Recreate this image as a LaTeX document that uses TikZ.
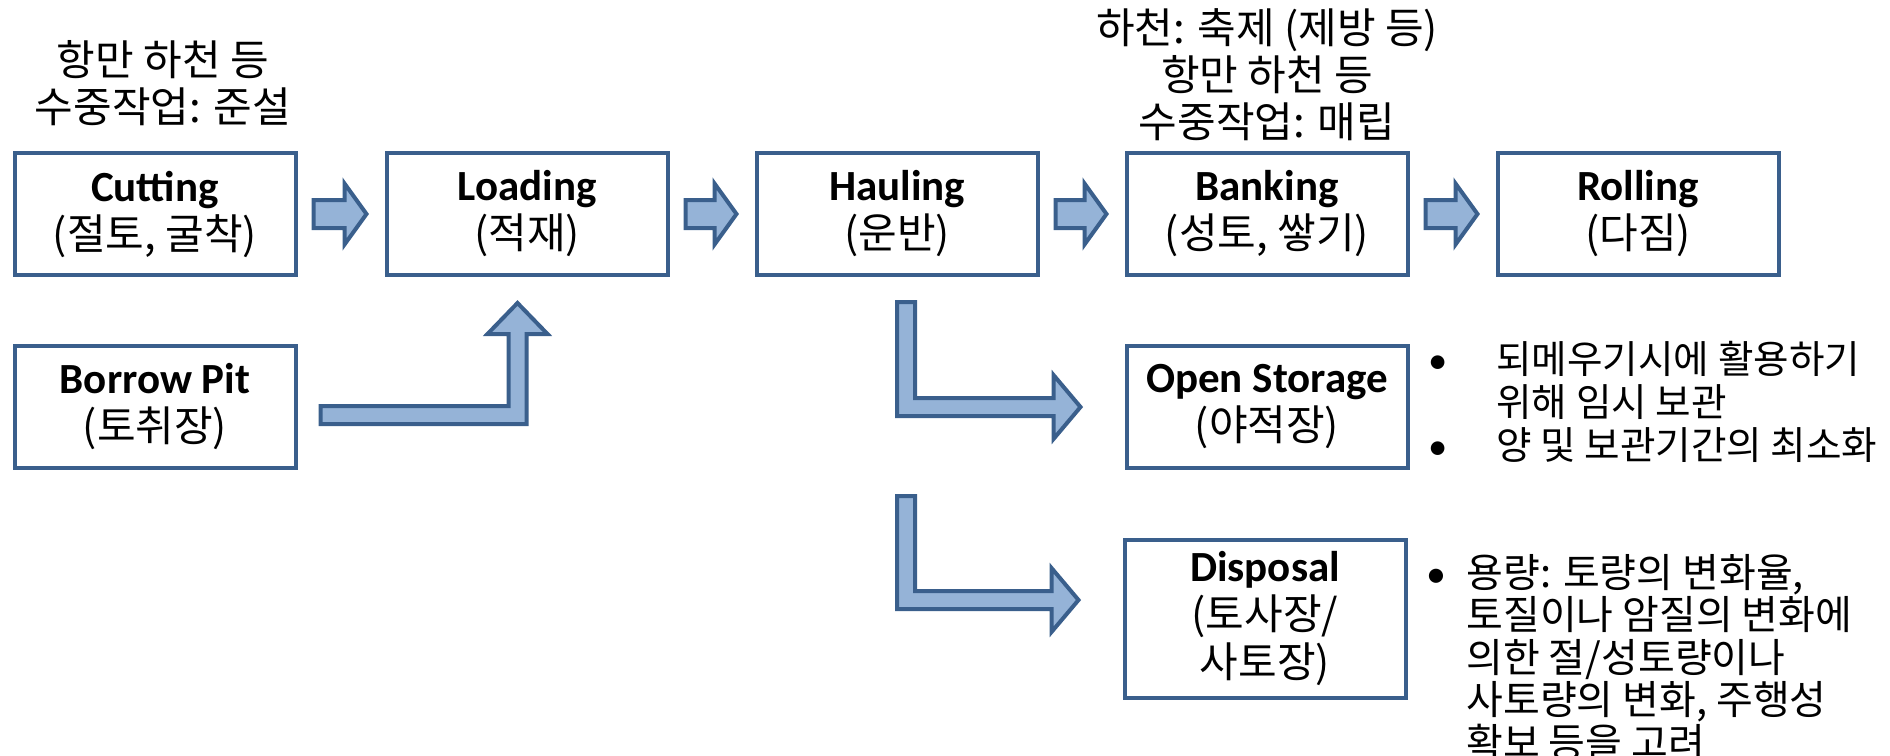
\documentclass[tikz,border=0pt]{standalone}
\usepackage{fontspec}
\setmainfont{Carlito}
\newfontfamily\kr{Noto Sans CJK KR}
\usetikzlibrary{calc}

\definecolor{boxline}{HTML}{3A5F8C}
\definecolor{arrowfill}{HTML}{95B3D7}

\tikzset{
  stage/.style={draw=boxline, line width=2pt, fill=white, minimum width=140.5pt,
    minimum height=61pt, align=center, inner sep=2pt, font=\kr\fontsize{21}{24}\selectfont},
  blockarrow/.style={draw=boxline, fill=arrowfill, line width=2pt, line join=miter},
  note/.style={align=center, font=\kr\fontsize{21}{23.5}\selectfont},
  bullets/.style={align=left, anchor=north west, inner sep=0pt, font=\kr\fontsize{20}{21.2}\selectfont}
}
\newcommand{\en}[1]{{\rmfamily\bfseries\fontsize{21.5}{24}\selectfont #1}}
\newcommand{\bul}[1]{\makebox[#1][l]{\rmfamily\textbullet}}
% straight block arrow between two stages
\newcommand{\flowarrow}[2]{%
  \draw[blockarrow] ($(#1.east)+(16,-14)$) -- ($(#2.west)+(-40,-14)$) -- ++(0,-16.5)
    -- ($(#2.west)+(-18,0)$) -- ($(#2.west)+(-40,30.5)$) -- ++(0,-16.5)
    -- ($(#1.east)+(16,14)$) -- cycle;}
% bent block arrow, down from hauling and right into a box
\newcommand{\brancharrow}[4]{%
  \draw[blockarrow] let \p1=(#1.south), \p2=($(#2.west)+(0,#4)$) in
    (\x1,\y1-#3) -- (\x1+9pt,\y1-#3) -- (\x1+9pt,\y2+4.5pt) -- (\x2-35.5pt,\y2+4.5pt)
    -- (\x2-35.5pt,\y2+16pt) -- (\x2-22pt,\y2) -- (\x2-35.5pt,\y2-16pt)
    -- (\x2-35.5pt,\y2-4.5pt) -- (\x1,\y2-4.5pt) -- cycle;}

\begin{document}
\begin{tikzpicture}[x=0.5pt, y=-0.5pt]
\useasboundingbox (0,0) rectangle (1890,755);

% main chain
\node[stage] (cutting) at (155,214) {\en{Cutting}\\(절토, 굴착)};
\node[stage] (loading) at (527,214) {\en{Loading}\\(적재)};
\node[stage] (hauling) at (897,214) {\en{Hauling}\\(운반)};
\node[stage] (banking) at (1267,214) {\en{Banking}\\(성토, 쌓기)};
\node[stage] (rolling) at (1638,214) {\en{Rolling}\\(다짐)};

% side boxes
\node[stage] (borrow) at (155,407) {\en{Borrow Pit}\\(토취장)};
\node[stage] (storage) at (1267,407) {\en{Open Storage}\\(야적장)};
\node[stage, minimum height=79pt] (disposal) at (1265,619) {\en{Disposal}\\(토사장/\\사토장)};

% notes
\node[note] (cutnote) at (163,83) {항만 하천 등\\수중작업: 준설};
\node[note] (banknote) at (1267,75) {하천: 축제 (제방 등)\\항만 하천 등\\수중작업: 매립};

\node[bullets, font=\kr\fontsize{19.3}{21.5}\selectfont] (storenote) at (1428,341) {\bul{34pt}되메우기시에 활용하기\\
  \hspace*{34pt}위해 임시 보관\\
  \bul{34pt}양 및 보관기간의 최소화};
\node[bullets] (disposenote) at (1426,554) {\bul{20pt}용량: 토량의 변화율,\\
  \hspace*{20pt}토질이나 암질의 변화에\\
  \hspace*{20pt}의한 절/성토량이나\\
  \hspace*{20pt}사토량의 변화, 주행성\\
  \hspace*{20pt}확보 등을 고려};

% arrows
\flowarrow{cutting}{loading}
\flowarrow{loading}{hauling}
\flowarrow{hauling}{banking}
\flowarrow{banking}{rolling}

\draw[blockarrow] let \p1=(borrow.east), \p2=(loading.south) in
  (\x1+11.5pt,\y1+0.5pt) -- (\x2-9.25pt,\y1+0.5pt) -- (\x2-9.25pt,\y2-28.5pt)
  -- (\x2-19.75pt,\y2-28.5pt) -- (\x2-4.75pt,\y2-13pt) -- (\x2+10.25pt,\y2-28.5pt)
  -- (\x2-0.25pt,\y2-28.5pt) -- (\x2-0.25pt,\y1-8.5pt) -- (\x1+11.5pt,\y1-8.5pt) -- cycle;

\brancharrow{hauling}{storage}{12.5pt}{0}
\brancharrow{hauling}{disposal}{109.5pt}{-19}
\end{tikzpicture}
\end{document}
